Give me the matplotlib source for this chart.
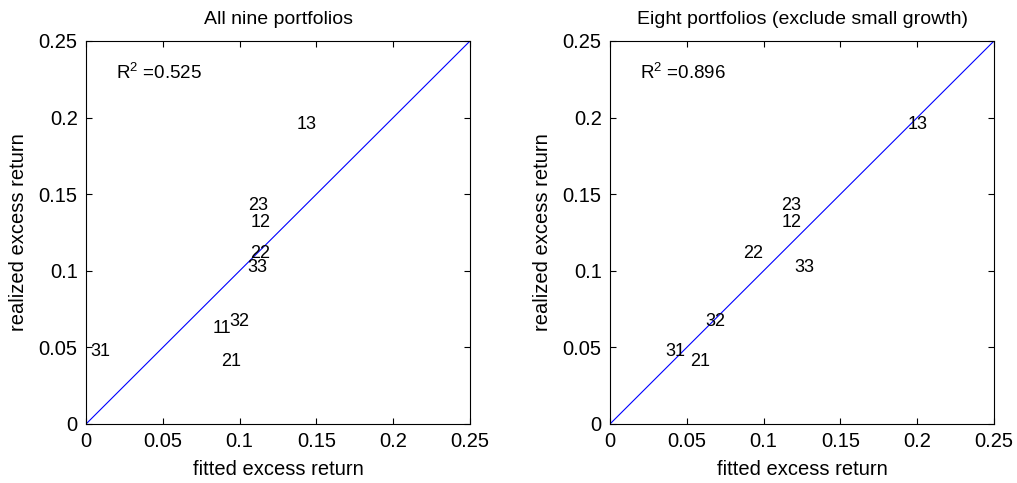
import matplotlib
matplotlib.use("Agg")
import matplotlib.pyplot as plt

plt.rcParams['font.family'] = ['Liberation Sans', 'DejaVu Sans']

labels = ['11', '12', '13', '21', '22', '23', '31', '32', '33']

# left panel: all nine portfolios (label anchor = fitted, realized)
fit_all = [0.0825, 0.1072, 0.137, 0.0877, 0.1068, 0.1057, 0.003, 0.0933, 0.105]
real_all = [0.0626, 0.1317, 0.1957, 0.0409, 0.1111, 0.1426, 0.0474, 0.067, 0.1022]

# right panel: excluding small growth (11)
labels8 = ['12', '13', '21', '22', '23', '31', '32', '33']
fit_8 = [0.1117, 0.194, 0.052, 0.0867, 0.1117, 0.0362, 0.0618, 0.1197]
real_8 = [0.1317, 0.1957, 0.0409, 0.1111, 0.1426, 0.0474, 0.067, 0.1022]

titles = ['All nine portfolios', 'Eight portfolios (exclude small growth)']
r2 = ['0.525', '0.896']
ticks = [0, 0.05, 0.1, 0.15, 0.2, 0.25]
tick_txt = ['0', '0.05', '0.1', '0.15', '0.2', '0.25']

fig = plt.figure(figsize=(10.17, 4.83), dpi=100)
ax1 = fig.add_axes([0.0846, 0.1222, 0.3776, 0.793])
ax2 = fig.add_axes([0.5998, 0.1222, 0.3776, 0.793])

panels = [(ax1, labels, fit_all, real_all), (ax2, labels8, fit_8, real_8)]
for i, (ax, lab, fx, ry) in enumerate(panels):
    ax.plot([0, 0.25], [0, 0.25], color='#0000ff', lw=0.8)
    for t, x, y in zip(lab, fx, ry):
        ax.text(x, y, t, fontsize=13, ha='left', va='center')
    ax.text(0.0195, 0.2293, '$\\mathregular{R^2}$ =' + r2[i], fontsize=13.5,
            ha='left', va='center')
    ax.set_xlim(0, 0.25)
    ax.set_ylim(0, 0.25)
    ax.set_xticks(ticks)
    ax.set_xticklabels(tick_txt)
    ax.set_yticks(ticks)
    ax.set_yticklabels(tick_txt)
    ax.tick_params(direction='in', top=True, right=True, labelsize=14.5,
                   length=4, width=0.8, pad=6)
    ax.set_xlabel('fitted excess return', fontsize=14.5, labelpad=6)
    ax.set_ylabel('realized excess return', fontsize=14.5, labelpad=8)
    ax.set_title(titles[i], fontsize=14, pad=12)
    for s in ax.spines.values():
        s.set_linewidth(0.8)

fig.savefig('out.png', dpi=100)
